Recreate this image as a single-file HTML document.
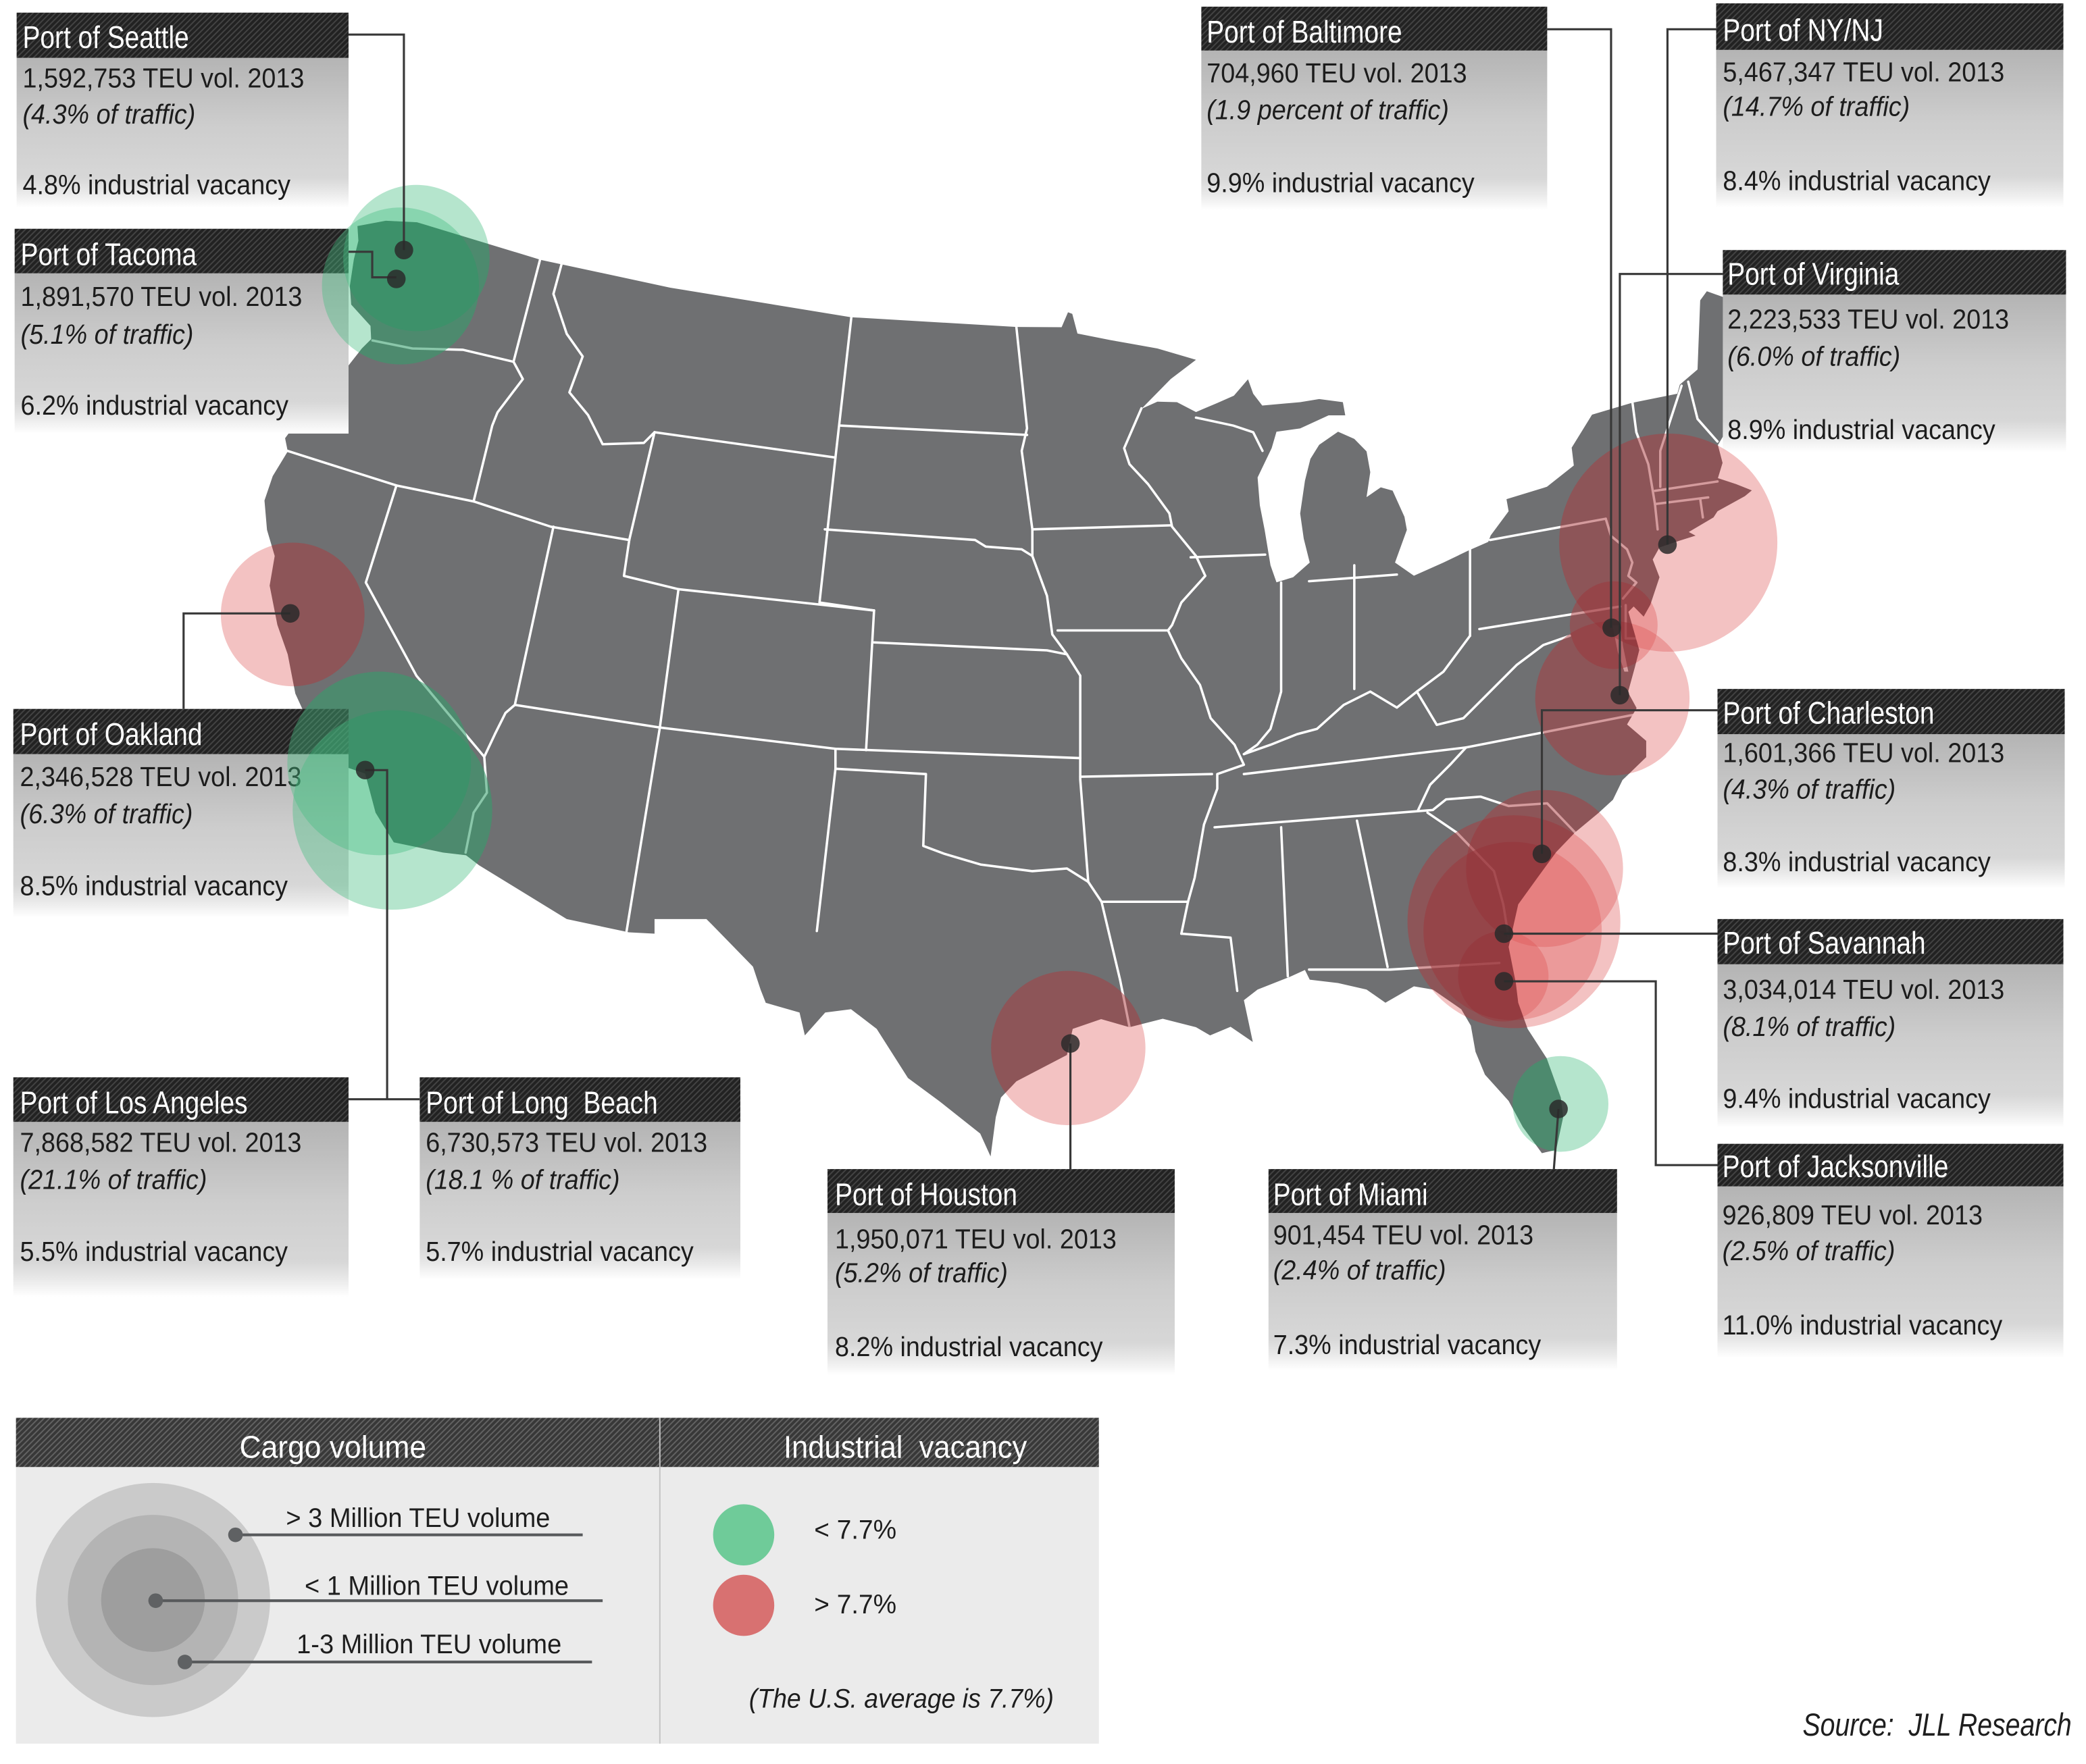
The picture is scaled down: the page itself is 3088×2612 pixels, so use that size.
<!DOCTYPE html>
<html>
<head>
<meta charset="utf-8">
<style>
html,body{margin:0;padding:0;background:#fff;}
svg{display:block}
.t{font-family:"Liberation Sans",Arial,sans-serif;font-size:23.5px;fill:#fff}
.b{font-family:"Liberation Sans",Arial,sans-serif;font-size:20.5px;fill:#1c1c1c}
.i{font-style:italic}
.l{font-family:"Liberation Sans",Arial,sans-serif;font-size:20px;fill:#1e1e1e}
.lh{font-family:"Liberation Sans",Arial,sans-serif;font-size:23.5px;fill:#fff}
</style>
</head>
<body>
<svg width="3088" height="2612" viewBox="0 0 1568 1326.3" preserveAspectRatio="none" xmlns="http://www.w3.org/2000/svg" xmlns:xlink="http://www.w3.org/1999/xlink">
<defs>
  <pattern id="h" width="3" height="3" patternUnits="userSpaceOnUse" patternTransform="rotate(45)">
    <rect width="3" height="3" fill="#222"/>
    <rect width="1" height="3" fill="#434343"/>
  </pattern>
  <pattern id="h2" width="3" height="3" patternUnits="userSpaceOnUse" patternTransform="rotate(45)">
    <rect width="3" height="3" fill="#383838"/>
    <rect width="1" height="3" fill="#626262"/>
  </pattern>
  <linearGradient id="bg" x1="0" y1="0" x2="0" y2="1">
    <stop offset="0" stop-color="#b4b4b4"/>
    <stop offset="0.45" stop-color="#cdcdcd"/>
    <stop offset="0.8" stop-color="#d7d7d7"/>
    <stop offset="0.9" stop-color="#e9e9e9"/>
    <stop offset="1" stop-color="#ffffff"/>
  </linearGradient>
  <path id="us" d="M268.7,170 L290,166 L313.4,167.1 L406.6,195.4 L503.8,216.3 L639.7,238.5 L764,245.8 L798,246 L802.8,234.8 L806,236 L809.9,250.8 L834.8,255.7 L870,262 L899,270.5 L880,285 L858,307.4 L870,302 L884.7,302.4 L899,309.8 L915,303 L927.5,297.5 L938.1,285.2 L942,296 L948.8,304.9 L977.3,302.4 L991.6,300 L1009.4,302.4 L1011.2,312.3 L998.7,312.3 L977.3,322.1 L959.5,324.6 L955.9,336.9 L945.3,359 L947,380 L950.6,398.4 L955,425 L959.5,437.8 L972,434 L984.5,423 L980,405 L977.3,386.1 L980.9,361.5 L985,345 L991.6,334.4 L1005.8,324.6 L1018,330 L1027.2,339.4 L1030,355 L1027.2,373.8 L1037.9,366.4 L1046.8,368.9 L1055.7,388.6 L1057.5,398.4 L1048.6,423 L1062.8,432.9 L1085,423 L1103.6,414 L1118.7,407.4 L1120.5,402.6 L1134,384.4 L1132.4,375.3 L1162.8,366 L1183,350 L1181.4,336.6 L1196.7,311.8 L1227,302.8 L1260.8,296 L1262.7,289.2 L1276,277.8 L1278,225.8 L1283,219 L1300,225 L1305,260 L1300,320 L1291.3,334.6 L1294.8,348 L1291.3,359.5 L1305,364 L1316.8,368.7 L1311.6,373 L1291,384.4 L1288,389 L1269.4,400 L1274.5,402.7 L1261,407 L1247.4,411.6 L1242.3,420.7 L1247.4,434 L1240.5,454.7 L1235.5,463.6 L1228,456 L1224,460 L1232.2,488.7 L1228.8,502 L1223.7,520.5 L1230.2,532.4 L1223,544.7 L1237.4,557 L1237.4,569.3 L1219.6,586.5 L1212.4,601.3 L1201.7,611.1 L1183.9,625.9 L1169.7,640.7 L1155.4,660.3 L1141.2,680 L1134,712 L1139.4,739.1 L1141.2,753.9 L1148.3,773.6 L1162.6,795.7 L1173.2,825.2 L1175,840 L1169.7,864.6 L1159,867 L1155.4,862.1 L1144.7,847.4 L1134,827.7 L1116.2,808 L1109.1,790.8 L1105.6,771.1 L1098.4,758.8 L1077,744 L1062.8,741.6 L1041.4,753.9 L1027.2,744 L1005.8,739.1 L984.5,736.6 L980.9,729.3 L970.2,734.2 L945.3,744 L935,752 L941.7,783.4 L925,772 L909.6,778.5 L899,772.3 L874,766 L849,772.3 L827.7,766.2 L806.3,773.6 L802,793.2 L764,813 L752.4,825.2 L748.5,840 L744.6,869.5 L736.8,852.3 L705.8,827.7 L682.5,810.5 L659,773.6 L639.7,758.8 L620.3,761.3 L605,778.5 L601,761.3 L575.6,754 L571.7,744 L566,726.8 L535,695 L531,691 L492,691 L492,702 L472.7,701 L426,691 L360,650.5 L350.3,643 L333,641 L296,633.3 L282.3,611 L274.5,581.6 L255,575 L235,550 L222,521.5 L216.3,492 L208.5,469.8 L202.7,440.3 L206.5,418 L200.7,398.4 L198.8,376.3 L205,358 L216.3,339.4 L214.3,329.5 L225,315 L250,290 L272,262 L279,255 L278.5,245 L264,229 L263,215 L266,195 L269.4,181 Z"/>
  <mask id="mm" maskUnits="userSpaceOnUse" x="0" y="0" width="1568" height="1327">
    <use xlink:href="#us" href="#us" fill="#fff"/>
    <g fill="#000">
      <rect x="12.5" y="9.5" width="249.5" height="147"/>
      <rect x="11" y="172" width="251" height="154"/>
      <rect x="10" y="533" width="252" height="157"/>
      <rect x="10" y="810" width="252" height="165"/>
      <rect x="315.5" y="810" width="241" height="152"/>
      <rect x="622" y="879" width="261" height="155"/>
      <rect x="953.5" y="879" width="262" height="151"/>
      <rect x="1291" y="860" width="260" height="161"/>
      <rect x="903" y="5" width="260" height="153"/>
      <rect x="1290" y="2.5" width="261" height="154"/>
      <rect x="1295" y="188" width="258" height="152"/>
      <rect x="1291" y="518" width="261" height="150"/>
      <rect x="1291" y="691" width="260" height="157"/>
    </g>
  </mask>
</defs>

<rect width="1568" height="1326.3" fill="#fff"/>

<!-- MAP -->
<use xlink:href="#us" href="#us" fill="#6f7072"/>
<path d="M1212,470 L1216,490 L1221,505 L1224,505 L1220,486 L1218,470 Z" fill="#fff"/>
<g fill="none" stroke="#fff" stroke-width="1.8" stroke-linejoin="round" stroke-linecap="round">
  <polyline points="280,256 310,262 348,263 386,272"/>
  <polyline points="406,195 386,272 393,285 374,310 370,320 356,377"/>
  <polyline points="216,339 298,365 356,377 414,396 473,406"/>
  <polyline points="298,365 275,438 313,508 364,569 366,596 356,611 350,641"/>
  <polyline points="422,199 416,221 426,251 438,268 428,295 442,312 453,334 484,333 492,325"/>
  <polyline points="492,325 473,406 469,433 510,443 657,459"/>
  <polyline points="416,396 387,530 380,536 372,552 364,569"/>
  <polyline points="387,530 496,547 628,563 812,570"/>
  <polyline points="510,443 496,547 471,700"/>
  <polyline points="640,238 628,344"/>
  <polyline points="492,325 628,344"/>
  <polyline points="628,344 616,453 657,459"/>
  <polyline points="632,320 772,327"/>
  <polyline points="620,398 733,406 741,411 768,413 776,418 787,448 791,477 802,492"/>
  <polyline points="764,246 772,322 768,339 776,398 776,418"/>
  <polyline points="657,459 651,564"/>
  <polyline points="657,483 787,489 802,492"/>
  <polyline points="628,563 628,578 614,700"/>
  <polyline points="628,578 696,582 694,636 710,642 737,650 776,655 802,653 818,663"/>
  <polyline points="802,492 812,508 812,586 818,663"/>
  <polyline points="818,663 828,678 842,737 849,772"/>
  <polyline points="828,678 892,678"/>
  <polyline points="776,398 880,395"/>
  <polyline points="858,307 845,337 849,349 863,364 879,386 881,396 899,418 906,433 888,453 881,470 878,474"/>
  <polyline points="795,474 878,474"/>
  <polyline points="899,314 927,320 942,325 949,339"/>
  <polyline points="895,419 951,417"/>
  <polyline points="878,474 888,495 902,515 910,540 928,560 935,575 915,582 915,593 905,620 898,660 893,678 888,702"/>
  <polyline points="812,584 911,582"/>
  <polyline points="963,438 963,520 955,548 945,560 935,567"/>
  <polyline points="1018,425 1018,518"/>
  <polyline points="984,437 1050,432"/>
  <polyline points="1105,413 1105,478"/>
  <polyline points="935,567 955,560 975,552 990,548 1010,530 1030,520 1050,532 1065,520 1085,505 1105,478"/>
  <polyline points="935,582 1102,562 1230,537"/>
  <polyline points="1065,520 1080,545 1100,540 1120,520 1140,500 1160,485 1180,478"/>
  <polyline points="1112,473 1218,456"/>
  <polyline points="1120,406 1207,390"/>
  <polyline points="1207,390 1211,403 1223,413 1227,423 1224,433 1230,438 1220,450"/>
  <polyline points="1227,302 1230,325 1239,349 1244,379"/>
  <polyline points="1264,290 1248,339 1248,366"/>
  <polyline points="1269,287 1276,315 1291,332"/>
  <polyline points="1244,369 1291,362"/>
  <polyline points="1244,379 1284,374"/>
  <polyline points="1278,375 1280,389"/>
  <polyline points="1244,379 1246,398"/>
  <polyline points="1222,455 1222,480 1233,480"/>
  <polyline points="913,622 1077,609 1087,601 1113,599 1134,606 1163,604 1184,626"/>
  <polyline points="1102,562 1090,575 1075,590 1066,609"/>
  <polyline points="1073,611 1095,626 1123,655 1130,680 1134,705"/>
  <polyline points="1020,617 1043,727"/>
  <polyline points="963,622 968,734"/>
  <polyline points="984,729 1045,729 1127,724"/>
  <polyline points="888,702 925,705 930,745"/>
</g>

<!-- BOXES -->
<g>
  <rect x="12.5" y="43.5" width="249.5" height="112.5" fill="url(#bg)"/>
  <rect x="12.5" y="9.5" width="249.5" height="34" fill="url(#h)"/>
  <text class="t" transform="translate(17,36) scale(.84,1)">Port of Seattle</text>
  <text class="b" transform="translate(17,65.7) scale(.935,1)">1,592,753 TEU vol. 2013</text>
  <text class="b i" transform="translate(17,93) scale(.935,1)">(4.3% of traffic)</text>
  <text class="b" transform="translate(17,146) scale(.935,1)">4.8% industrial vacancy</text>

  <rect x="11" y="205.5" width="251" height="120.5" fill="url(#bg)"/>
  <rect x="11" y="172" width="251" height="33.5" fill="url(#h)"/>
  <text class="t" transform="translate(15.5,199.4) scale(.84,1)">Port of Tacoma</text>
  <text class="b" transform="translate(15.5,230) scale(.935,1)">1,891,570 TEU vol. 2013</text>
  <text class="b i" transform="translate(15.5,258.4) scale(.935,1)">(5.1% of traffic)</text>
  <text class="b" transform="translate(15.5,311.7) scale(.935,1)">6.2% industrial vacancy</text>

  <rect x="10" y="567" width="252" height="123" fill="url(#bg)"/>
  <rect x="10" y="533" width="252" height="34" fill="url(#h)"/>
  <text class="t" transform="translate(15,560) scale(.84,1)">Port of Oakland</text>
  <text class="b" transform="translate(15,591) scale(.935,1)">2,346,528 TEU vol. 2013</text>
  <text class="b i" transform="translate(15,619) scale(.935,1)">(6.3% of traffic)</text>
  <text class="b" transform="translate(15,673) scale(.935,1)">8.5% industrial vacancy</text>

  <rect x="10" y="843.5" width="252" height="131.5" fill="url(#bg)"/>
  <rect x="10" y="810" width="252" height="33.5" fill="url(#h)"/>
  <text class="t" transform="translate(15,837) scale(.84,1)">Port of Los Angeles</text>
  <text class="b" transform="translate(15,866) scale(.935,1)">7,868,582 TEU vol. 2013</text>
  <text class="b i" transform="translate(15,894) scale(.935,1)">(21.1% of traffic)</text>
  <text class="b" transform="translate(15,948) scale(.935,1)">5.5% industrial vacancy</text>

  <rect x="315.5" y="843.5" width="241" height="118.5" fill="url(#bg)"/>
  <rect x="315.5" y="810" width="241" height="33.5" fill="url(#h)"/>
  <text class="t" transform="translate(320,837) scale(.84,1)">Port of Long&#160; Beach</text>
  <text class="b" transform="translate(320,866) scale(.935,1)">6,730,573 TEU vol. 2013</text>
  <text class="b i" transform="translate(320,894) scale(.935,1)">(18.1 % of traffic)</text>
  <text class="b" transform="translate(320,948) scale(.935,1)">5.7% industrial vacancy</text>

  <rect x="622" y="912" width="261" height="122" fill="url(#bg)"/>
  <rect x="622" y="879" width="261" height="33" fill="url(#h)"/>
  <text class="t" transform="translate(627.6,906) scale(.84,1)">Port of Houston</text>
  <text class="b" transform="translate(627.6,938.5) scale(.935,1)">1,950,071 TEU vol. 2013</text>
  <text class="b i" transform="translate(627.6,964) scale(.935,1)">(5.2% of traffic)</text>
  <text class="b" transform="translate(627.6,1019.6) scale(.935,1)">8.2% industrial vacancy</text>

  <rect x="953.5" y="912" width="262" height="118" fill="url(#bg)"/>
  <rect x="953.5" y="879" width="262" height="33" fill="url(#h)"/>
  <text class="t" transform="translate(957,906) scale(.84,1)">Port of Miami</text>
  <text class="b" transform="translate(957,935.6) scale(.935,1)">901,454 TEU vol. 2013</text>
  <text class="b i" transform="translate(957,962) scale(.935,1)">(2.4% of traffic)</text>
  <text class="b" transform="translate(957,1018) scale(.935,1)">7.3% industrial vacancy</text>

  <rect x="1291" y="892" width="260" height="129" fill="url(#bg)"/>
  <rect x="1291" y="860" width="260" height="32" fill="url(#h)"/>
  <text class="t" transform="translate(1294.6,885) scale(.84,1)">Port of Jacksonville</text>
  <text class="b" transform="translate(1294.6,920.6) scale(.935,1)">926,809 TEU vol. 2013</text>
  <text class="b i" transform="translate(1294.6,947.4) scale(.935,1)">(2.5% of traffic)</text>
  <text class="b" transform="translate(1294.6,1003.4) scale(.935,1)">11.0% industrial vacancy</text>

  <rect x="903" y="38" width="260" height="120" fill="url(#bg)"/>
  <rect x="903" y="5" width="260" height="33" fill="url(#h)"/>
  <text class="t" transform="translate(907,32) scale(.84,1)">Port of Baltimore</text>
  <text class="b" transform="translate(907,62) scale(.935,1)">704,960 TEU vol. 2013</text>
  <text class="b i" transform="translate(907,89.5) scale(.935,1)">(1.9 percent of traffic)</text>
  <text class="b" transform="translate(907,144.5) scale(.935,1)">9.9% industrial vacancy</text>

  <rect x="1290" y="37.5" width="261" height="118.5" fill="url(#bg)"/>
  <rect x="1290" y="2.5" width="261" height="35" fill="url(#h)"/>
  <text class="t" transform="translate(1295,30.6) scale(.84,1)">Port of NY/NJ</text>
  <text class="b" transform="translate(1295,61.2) scale(.935,1)">5,467,347 TEU vol. 2013</text>
  <text class="b i" transform="translate(1295,87) scale(.935,1)">(14.7% of traffic)</text>
  <text class="b" transform="translate(1295,143) scale(.935,1)">8.4% industrial vacancy</text>

  <rect x="1295" y="221.5" width="258" height="118.5" fill="url(#bg)"/>
  <rect x="1295" y="188" width="258" height="33.5" fill="url(#h)"/>
  <text class="t" transform="translate(1298.5,214) scale(.84,1)">Port of Virginia</text>
  <text class="b" transform="translate(1298.5,247) scale(.935,1)">2,223,533 TEU vol. 2013</text>
  <text class="b i" transform="translate(1298.5,275) scale(.935,1)">(6.0% of traffic)</text>
  <text class="b" transform="translate(1298.5,330) scale(.935,1)">8.9% industrial vacancy</text>

  <rect x="1291" y="552" width="261" height="116" fill="url(#bg)"/>
  <rect x="1291" y="518" width="261" height="34" fill="url(#h)"/>
  <text class="t" transform="translate(1295,544) scale(.84,1)">Port of Charleston</text>
  <text class="b" transform="translate(1295,573) scale(.935,1)">1,601,366 TEU vol. 2013</text>
  <text class="b i" transform="translate(1295,600.5) scale(.935,1)">(4.3% of traffic)</text>
  <text class="b" transform="translate(1295,655) scale(.935,1)">8.3% industrial vacancy</text>

  <rect x="1291" y="725" width="260" height="123" fill="url(#bg)"/>
  <rect x="1291" y="691" width="260" height="34" fill="url(#h)"/>
  <text class="t" transform="translate(1295,717) scale(.84,1)">Port of Savannah</text>
  <text class="b" transform="translate(1295,751) scale(.935,1)">3,034,014 TEU vol. 2013</text>
  <text class="b i" transform="translate(1295,779) scale(.935,1)">(8.1% of traffic)</text>
  <text class="b" transform="translate(1295,833) scale(.935,1)">9.4% industrial vacancy</text>
</g>

<!-- CIRCLES (base layer) -->
<g fill="#46be82" fill-opacity=".4">
  <circle cx="313" cy="194" r="55"/>
  <circle cx="301" cy="215" r="59"/>
  <circle cx="285" cy="574" r="69"/>
  <circle cx="295" cy="609" r="75"/>
  <circle cx="1173" cy="830" r="36"/>
</g>
<g fill="#dc5050" fill-opacity=".35">
  <circle cx="220" cy="462" r="54"/>
  <circle cx="1254" cy="408" r="82"/>
  <circle cx="1213" cy="470" r="33"/>
  <circle cx="1212" cy="525" r="58"/>
  <circle cx="1161" cy="653" r="59"/>
  <circle cx="1138" cy="693" r="80"/>
  <circle cx="1137" cy="700" r="67"/>
  <circle cx="1130" cy="734" r="34"/>
  <circle cx="803" cy="788" r="58"/>
</g>
<g mask="url(#mm)">
  <g fill="#28825a" fill-opacity=".3">
    <circle cx="313" cy="194" r="55"/>
    <circle cx="301" cy="215" r="59"/>
    <circle cx="285" cy="574" r="69"/>
    <circle cx="295" cy="609" r="75"/>
    <circle cx="1173" cy="830" r="36"/>
  </g>
  <g fill="#782830" fill-opacity=".25">
    <circle cx="220" cy="462" r="54"/>
    <circle cx="1254" cy="408" r="82"/>
    <circle cx="1213" cy="470" r="33"/>
    <circle cx="1212" cy="525" r="58"/>
    <circle cx="1161" cy="653" r="59"/>
    <circle cx="1138" cy="693" r="80"/>
    <circle cx="1137" cy="700" r="67"/>
    <circle cx="1130" cy="734" r="34"/>
    <circle cx="803" cy="788" r="58"/>
  </g>
</g>

<!-- CONNECTOR LINES -->
<g fill="none" stroke="#383838" stroke-width="1.6">
  <path d="M262,26 H303.6 V188"/>
  <path d="M262,189.3 H279.8 V208.5 H297.9"/>
  <path d="M218.2,461.2 H138 V533"/>
  <path d="M274.5,579 H291 V826.5 M262,826.5 H315.5"/>
  <path d="M804.6,784.6 V879"/>
  <path d="M1171.5,833.8 L1168,879"/>
  <path d="M1130.5,737.8 H1244.6 V876 H1291"/>
  <path d="M1130.5,702 H1291"/>
  <path d="M1159,642 V534 H1291"/>
  <path d="M1217.6,522.7 V206 H1295"/>
  <path d="M1211,472 V22 H1163"/>
  <path d="M1253.4,409.5 V22 H1290"/>
</g>
<g fill="#2a2a2a" fill-opacity=".85">
  <circle cx="303.6" cy="188" r="7"/>
  <circle cx="297.9" cy="209.7" r="7"/>
  <circle cx="218.2" cy="461.2" r="7"/>
  <circle cx="274.5" cy="579" r="7"/>
  <circle cx="804.6" cy="784.6" r="7"/>
  <circle cx="1171.5" cy="833.8" r="7"/>
  <circle cx="1130.5" cy="737.8" r="7"/>
  <circle cx="1130.5" cy="702" r="7"/>
  <circle cx="1159" cy="642" r="7"/>
  <circle cx="1217.6" cy="522.7" r="7"/>
  <circle cx="1211.5" cy="472" r="7"/>
  <circle cx="1253.4" cy="409.5" r="7"/>
</g>

<!-- LEGEND -->
<rect x="12" y="1103" width="814" height="208" fill="#ebebeb"/>
<rect x="12" y="1066" width="814" height="37" fill="url(#h2)"/>
<line x1="496" y1="1066" x2="496" y2="1311" stroke="#c4c4c4" stroke-width="1"/>
<text class="lh" transform="translate(180,1096) scale(.96,1)">Cargo volume</text>
<text class="lh" transform="translate(589,1096) scale(.94,1)">Industrial&#160; vacancy</text>

<circle cx="115" cy="1203" r="88" fill="#cacaca"/>
<circle cx="115" cy="1203" r="64" fill="#b4b4b4"/>
<circle cx="115" cy="1203" r="39" fill="#9e9e9e"/>
<g stroke="#585a5c" stroke-width="2.1">
  <line x1="177" y1="1154" x2="438" y2="1154"/>
  <line x1="117" y1="1203.5" x2="453" y2="1203.5"/>
  <line x1="139" y1="1249.6" x2="445" y2="1249.6"/>
</g>
<g fill="#5f6163">
  <circle cx="177" cy="1154" r="5.5"/>
  <circle cx="117" cy="1203.5" r="5.5"/>
  <circle cx="139" cy="1249.6" r="5.5"/>
</g>
<text class="l" transform="translate(215,1148) scale(.965,1)">&gt; 3 Million TEU volume</text>
<text class="l" transform="translate(229,1199) scale(.965,1)">&lt; 1 Million TEU volume</text>
<text class="l" transform="translate(223,1243) scale(.965,1)">1-3 Million TEU volume</text>

<circle cx="559" cy="1154" r="23" fill="#6fcb99"/>
<circle cx="559" cy="1207" r="23" fill="#d87171"/>
<text class="l" transform="translate(612,1157) scale(.985,1)">&lt; 7.7%</text>
<text class="l" transform="translate(612,1213) scale(.985,1)">&gt; 7.7%</text>
<text class="l i" transform="translate(563,1284) scale(.95,1)">(The U.S. average is 7.7%)</text>

<text class="l i" style="font-size:24px" transform="translate(1355,1305) scale(.83,1)">Source:&#160; JLL Research</text>
</svg>
</body>
</html>
